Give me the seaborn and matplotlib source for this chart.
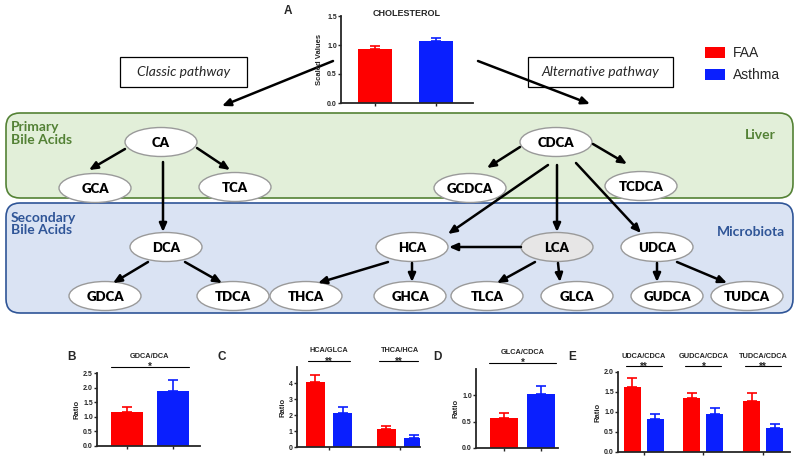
import numpy as np
import pandas as pd
import seaborn as sns
import matplotlib.pyplot as plt
from matplotlib.patches import Ellipse, FancyBboxPatch, Rectangle

# ---- data ----
groups = ["FAA", "Asthma"]
chol_vals = [0.93, 1.07]
chol_err = [0.05, 0.05]

b_vals = [1.15, 1.90]
b_err = [0.17, 0.37]

c_ratios = ["HCA/GLCA", "THCA/HCA"]
c_faa = [4.05, 1.15]
c_asthma = [2.10, 0.55]
c_faa_err = [0.45, 0.17]
c_asthma_err = [0.40, 0.20]

d_vals = [0.57, 1.02]
d_err = [0.09, 0.15]

e_ratios = ["UDCA/CDCA", "GUDCA/CDCA", "TUDCA/CDCA"]
e_faa = [1.63, 1.35, 1.28]
e_asthma = [0.82, 0.96, 0.59]
e_faa_err = [0.23, 0.13, 0.20]
e_asthma_err = [0.12, 0.14, 0.10]

RED = "#fe0000"
BLUE = "#0a1ffe"
PAL = {"FAA": RED, "Asthma": BLUE}

sns.set_style("ticks")
plt.rcParams["font.family"] = ["Liberation Sans", "DejaVu Sans"]

W, H = 800, 458
fig = plt.figure(figsize=(8, 4.58), dpi=100)
ax = fig.add_axes([0, 0, 1, 1])
ax.set_xlim(0, W)
ax.set_ylim(H, 0)
ax.axis("off")

DFONT = "Lato"


def add_ax(x0, y0, x1, y1):
    return fig.add_axes([x0 / W, 1 - y1 / H, (x1 - x0) / W, (y1 - y0) / H])


def arrow(p, q):
    ax.annotate("", xy=q, xytext=p,
                arrowprops=dict(arrowstyle="-|>,head_length=0.5,head_width=0.22",
                                color="black", lw=1.8, shrinkA=0, shrinkB=0))


# ---- big coloured boxes ----
ax.add_patch(FancyBboxPatch((6, 113), 787, 85, boxstyle="round,pad=0,rounding_size=14",
                            fc="#e2efd9", ec="#548235", lw=1.2))
ax.add_patch(FancyBboxPatch((6, 203), 787, 110, boxstyle="round,pad=0,rounding_size=14",
                            fc="#dae3f3", ec="#2f5597", lw=1.2))
ax.text(11, 121, "Primary\nBile Acids", color="#538135", fontsize=10, fontweight="bold",
        family=DFONT, va="top", linespacing=1.05)
ax.text(776, 135, "Liver", color="#538135", fontsize=10, fontweight="bold",
        family=DFONT, va="center", ha="right")
ax.text(11, 212, "Secondary\nBile Acids", color="#2f5597", fontsize=10, fontweight="bold",
        family=DFONT, va="top", linespacing=1.05)
ax.text(785, 232, "Microbiota", color="#2f5597", fontsize=10, fontweight="bold",
        family=DFONT, va="center", ha="right")

# ---- pathway boxes ----
ax.add_patch(Rectangle((120, 57), 127, 30, fc="white", ec="black", lw=0.9))
ax.text(183.5, 72, "Classic pathway", fontsize=10, style="italic", family=DFONT,
        ha="center", va="center")
ax.add_patch(Rectangle((528, 57), 145, 30, fc="white", ec="black", lw=0.9))
ax.text(600.5, 72, "Alternative pathway", fontsize=10, style="italic", family=DFONT,
        ha="center", va="center")
arrow((333, 61), (222, 106))
arrow((478, 61), (590, 104))

# ---- legend ----
ax.add_patch(Rectangle((705, 47), 20, 11, fc=RED, ec="none"))
ax.add_patch(Rectangle((705, 69), 20, 11, fc=BLUE, ec="none"))
ax.text(733, 53, "FAA", fontsize=10, family="Liberation Sans", va="center")
ax.text(733, 75, "Asthma", fontsize=10, family="Liberation Sans", va="center")

# ---- nodes ----
nodes = {
    "CA": (161, 142), "GCA": (95, 188), "TCA": (235, 187),
    "CDCA": (556, 142), "GCDCA": (470, 188), "TCDCA": (641, 186),
    "DCA": (166, 247), "HCA": (412, 247), "LCA": (557, 247), "UDCA": (657, 247),
    "GDCA": (105, 296), "TDCA": (233, 296), "THCA": (306, 296), "GHCA": (410, 296),
    "TLCA": (487, 296), "GLCA": (577, 296), "GUDCA": (667, 296), "TUDCA": (747, 296),
}
for name, (cx, cy) in nodes.items():
    fc = "#e7e6e6" if name == "LCA" else "white"
    ax.add_patch(Ellipse((cx, cy), 72, 29, fc=fc, ec="#9a9a9a", lw=1.0, zorder=3))
    ax.text(cx, cy + 1, name, fontsize=9.5, fontweight="heavy", family=DFONT,
            ha="center", va="center", zorder=4, color="black")

edges = [
    ((125, 149), (89, 170)), ((197, 148), (230, 170)), ((163, 162), (163, 232)),
    ((520, 147), (487, 168)), ((593, 144), (627, 164)),
    ((548, 165), (448, 234)), ((557, 165), (557, 232)), ((576, 163), (641, 233)),
    ((521, 247), (449, 247)),
    ((148, 262), (113, 283)), ((185, 262), (222, 283)),
    ((388, 262), (318, 283)), ((412, 263), (412, 282)),
    ((535, 262), (497, 283)), ((558, 263), (560, 282)),
    ((657, 263), (657, 282)), ((677, 262), (727, 283)),
]
for p, q in edges:
    arrow(p, q)


# ---- bar chart helpers ----
def style_ax(a, yticks, fmt):
    sns.despine(ax=a)
    a.spines["left"].set_linewidth(1.3)
    a.spines["bottom"].set_linewidth(1.3)
    a.set_yticks(yticks)
    a.set_yticklabels([fmt.format(v) for v in yticks], fontsize=5, fontweight="bold")
    a.tick_params(axis="both", length=2, width=1, pad=1)
    a.set_xlabel("")
    a.set_facecolor("none")


def add_errors(a, errs):
    for cont, err in zip(a.containers, errs):
        for bar, e in zip(cont, err):
            xc = bar.get_x() + bar.get_width() / 2
            h = bar.get_height()
            a.errorbar([xc], [h], yerr=[[0], [e]], fmt="none",
                       ecolor=bar.get_facecolor(), elinewidth=1.2,
                       capsize=3.5, capthick=1.2, zorder=1)


def sig(a, x0, x1, y, mark):
    a.plot([x0, x1], [y, y], color="black", lw=0.8, clip_on=False)
    a.text((x0 + x1) / 2, y, mark, fontsize=7, fontweight="bold", ha="center",
           va="center", clip_on=False)


def bars(a, df, x, width, gap=0):
    sns.barplot(data=df, x=x, y="value", hue="group", palette=PAL, saturation=1,
                width=width, gap=gap, errorbar=None, legend=False, ax=a,
                edgecolor="none")


# A: cholesterol
df_chol = pd.DataFrame({"group": groups, "value": chol_vals})
a = add_ax(341, 16, 473, 103)
bars(a, df_chol, "group", 0.55)
add_errors(a, [[chol_err[0]], [chol_err[1]]])
a.set_xlim(-0.55, 1.6)
a.set_ylim(0, 1.5)
style_ax(a, [0, 0.5, 1.0, 1.5], "{:.1f}")
a.set_xticks([0, 1])
a.set_xticklabels([])
a.set_ylabel("Scaled Values", fontsize=5.5, fontweight="bold", labelpad=3)
a.set_title("CHOLESTEROL", fontsize=6.5, fontweight="bold", pad=0, y=1.0)
ax.text(288, 11, "A", fontsize=8.5, fontweight="bold", ha="center", va="center")

# B
df_b = pd.DataFrame({"group": groups, "value": b_vals})
a = add_ax(97, 373, 200, 446)
bars(a, df_b, "group", 0.7)
add_errors(a, [[b_err[0]], [b_err[1]]])
a.set_xlim(-0.65, 1.6)
a.set_ylim(0, 2.5)
style_ax(a, [0, 0.5, 1.0, 1.5, 2.0, 2.5], "{:.1f}")
a.set_xticks([0, 1])
a.set_xticklabels([])
a.set_ylabel("Ratio", fontsize=5.5, fontweight="bold", labelpad=2)
sig(a, -0.35, 1.35, 2.72, "*")
a.text(0.5, 2.95, "GDCA/DCA", fontsize=5.3, fontweight="bold", ha="center", va="bottom")
ax.text(72, 357, "B", fontsize=8.5, fontweight="bold", ha="center", va="center")

# C
df_c = pd.DataFrame({
    "ratio": c_ratios * 2,
    "group": ["FAA"] * 2 + ["Asthma"] * 2,
    "value": c_faa + c_asthma,
})
a = add_ax(297, 367, 420, 447)
bars(a, df_c, "ratio", 0.77, 0.29)
add_errors(a, [c_faa_err, c_asthma_err])
a.set_xlim(-0.45, 1.28)
a.set_ylim(0, 5)
style_ax(a, [0, 1, 2, 3, 4], "{:.0f}")
a.set_xticks([0, 1])
a.set_xticklabels([])
a.set_ylabel("Ratio", fontsize=5.5, fontweight="bold", labelpad=2)
sig(a, -0.3, 0.3, 5.35, "**")
sig(a, 0.7, 1.25, 5.35, "**")
a.text(0, 5.8, "HCA/GLCA", fontsize=5.3, fontweight="bold", ha="center", va="bottom")
a.text(1, 5.8, "THCA/HCA", fontsize=5.3, fontweight="bold", ha="center", va="bottom")
ax.text(222, 357, "C", fontsize=8.5, fontweight="bold", ha="center", va="center")

# D
df_d = pd.DataFrame({"group": groups, "value": d_vals})
a = add_ax(476, 369, 558, 448)
bars(a, df_d, "group", 0.78)
add_errors(a, [[d_err[0]], [d_err[1]]])
a.set_xlim(-0.76, 1.46)
a.set_ylim(0, 1.5)
style_ax(a, [0, 0.5, 1.0], "{:.1f}")
a.set_xticks([0, 1])
a.set_xticklabels([])
a.set_ylabel("Ratio", fontsize=5.5, fontweight="bold", labelpad=2)
sig(a, -0.4, 1.4, 1.62, "*")
a.text(0.5, 1.75, "GLCA/CDCA", fontsize=5.3, fontweight="bold", ha="center", va="bottom")
ax.text(437, 357, "D", fontsize=8.5, fontweight="bold", ha="center", va="center")

# E
df_e = pd.DataFrame({
    "ratio": e_ratios * 2,
    "group": ["FAA"] * 3 + ["Asthma"] * 3,
    "value": e_faa + e_asthma,
})
a = add_ax(618, 372, 790, 452)
bars(a, df_e, "ratio", 0.77, 0.26)
add_errors(a, [e_faa_err, e_asthma_err])
a.set_xlim(-0.43, 2.45)
a.set_ylim(0, 2.0)
style_ax(a, [0, 0.5, 1.0, 1.5, 2.0], "{:.1f}")
a.set_xticks([0, 1, 2])
a.set_xticklabels([])
a.set_ylabel("Ratio", fontsize=5.5, fontweight="bold", labelpad=2)
for i, m in enumerate(["**", "*", "**"]):
    sig(a, i - 0.3, i + 0.3, 2.14, m)
    a.text(i, 2.3, e_ratios[i], fontsize=5.3, fontweight="bold", ha="center", va="bottom")
ax.text(572, 357, "E", fontsize=8.5, fontweight="bold", ha="center", va="center")

fig.savefig("out.png", dpi=100)
